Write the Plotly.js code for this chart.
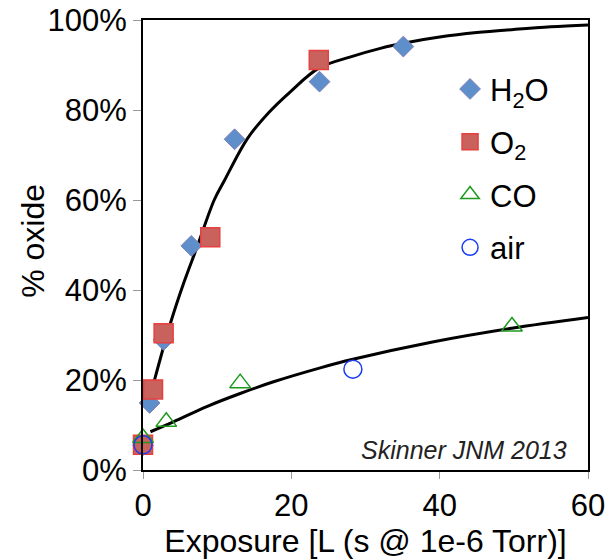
<!DOCTYPE html>
<html>
<head>
<meta charset="utf-8">
<script src="https://cdn.plot.ly/plotly-3.0.1.min.js"></script>
<style>html,body{margin:0;padding:0;background:#fff;}#chart{width:614px;height:559px;}</style>
</head>
<body>
<div id="chart"></div>
<script>
// ---- data ----
var h2oX = [0, 0.89, 2.78, 6.51, 12.35, 23.8, 35.1];
var h2oY = [0.055, 0.149, 0.289, 0.498, 0.735, 0.863, 0.941];

var o2X = [0, 1.35, 2.78, 9.07, 23.7];
var o2Y = [0.056, 0.179, 0.304, 0.517, 0.911];

var coX = [0, 3.14, 13.1, 49.75];
var coY = [0.071, 0.107, 0.193, 0.319];

var airX = [0, 28.3];
var airY = [0.056, 0.224];

var fastFitX = [0.6, 1.6, 3.7, 5.5, 7.3, 9.6, 11, 14.1, 17, 19.9, 23.7, 28, 32, 36, 40, 45, 50, 55, 60];
var fastFitY = [0.14, 0.203, 0.326, 0.416, 0.496, 0.60, 0.644, 0.737, 0.795, 0.841, 0.893, 0.918, 0.937, 0.951, 0.962, 0.972, 0.979, 0.985, 0.989];

var slowFitX = [1.0, 4.1, 8.6, 13.1, 17.6, 23.9, 28.3, 39.2, 49.7, 60];
var slowFitY = [0.085, 0.107, 0.141, 0.170, 0.196, 0.227, 0.246, 0.285, 0.315, 0.339];

var seriesNames = ['H<sub>2</sub>O', 'O<sub>2</sub>', 'CO', 'air'];
var xTickVals = [0, 20, 40, 60];
var yTickVals = [0, 0.2, 0.4, 0.6, 0.8, 1.0];

var FONT = 'Liberation Sans, Arial, Helvetica, sans-serif';

var traces = [
  {x: fastFitX, y: fastFitY, mode: 'lines', line: {color: '#000', width: 3, shape: 'spline'}, showlegend: false, hoverinfo: 'skip'},
  {x: slowFitX, y: slowFitY, mode: 'lines', line: {color: '#000', width: 3, shape: 'spline'}, showlegend: false, hoverinfo: 'skip'},
  {x: h2oX, y: h2oY, name: seriesNames[0], mode: 'markers', legendgroup: 'a', cliponaxis: false,
   marker: {symbol: 'diamond', size: 16, color: '#5f8fca', line: {color: '#8080b8', width: 1}}},
  {x: o2X, y: o2Y, name: seriesNames[1], mode: 'markers', legendgroup: 'b', cliponaxis: false,
   marker: {symbol: 'square', size: 19, color: '#c9615c', line: {color: '#e8403f', width: 1.5}}},
  {x: coX, y: coY, name: seriesNames[2], mode: 'markers', legendgroup: 'c', cliponaxis: false,
   marker: {symbol: 'triangle-up-open', size: 18, color: '#1c9a1c', line: {color: '#1c9a1c', width: 1.5}}},
  {x: airX, y: airY, name: seriesNames[3], mode: 'markers', legendgroup: 'd', cliponaxis: false,
   marker: {symbol: 'circle-open', size: 18, color: '#1a3cf5', line: {color: '#1a3cf5', width: 1.5}}}
];

var layout = {
  width: 614, height: 559,
  margin: {l: 143, r: 26, t: 20, b: 89},
  paper_bgcolor: '#fff', plot_bgcolor: '#fff',
  font: {family: FONT, size: 31, color: '#000'},
  showlegend: true,
  legend: {x: 0.69, xanchor: 'left', y: 0.906, yanchor: 'top', bgcolor: 'rgba(0,0,0,0)',
           traceorder: 'grouped', tracegroupgap: 9.5, itemsizing: 'trace',
           font: {family: FONT, size: 31, color: '#000'}},
  xaxis: {range: [0, 60], tickvals: xTickVals, ticks: 'outside', ticklen: 7, tickcolor: '#999', tickwidth: 1,
          showline: true, linecolor: '#000', linewidth: 2, mirror: true, showgrid: false, zeroline: false,
          tickfont: {family: FONT, size: 31, color: '#000'},
          title: {text: 'Exposure [L (s @ 1e-6 Torr)]', font: {family: FONT, size: 32, color: '#000'}, standoff: 12}},
  yaxis: {range: [0, 1], tickvals: yTickVals, tickformat: '.0%', ticks: 'outside', ticklen: 8, tickcolor: '#999', tickwidth: 1,
          showline: true, linecolor: '#000', linewidth: 2, mirror: true, showgrid: false, zeroline: false,
          tickfont: {family: FONT, size: 31, color: '#000'}},
  annotations: [{
    text: 'Skinner JNM 2013', xref: 'paper', yref: 'paper', x: 0.958, y: 0.045,
    xanchor: 'right', yanchor: 'middle', showarrow: false,
    font: {family: FONT, size: 25, color: '#222', style: 'italic'}
  }, {
    text: '% oxide', xref: 'paper', yref: 'paper', x: -0.2476, y: 0.509, textangle: -90,
    xanchor: 'center', yanchor: 'middle', showarrow: false,
    font: {family: FONT, size: 32, color: '#000'}
  }]
};

Plotly.newPlot('chart', traces, layout, {displayModeBar: false, staticPlot: true});
</script>
</body>
</html>
